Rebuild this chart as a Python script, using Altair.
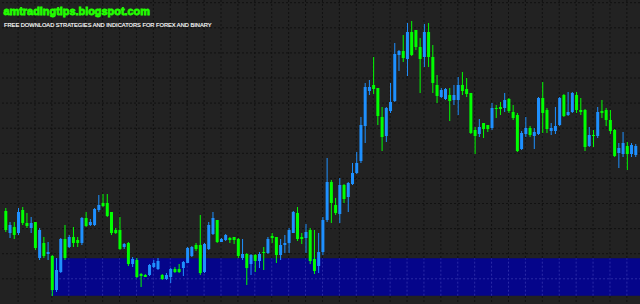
import altair as alt
import pandas as pd

# ---- candle data (price units) ----
open_ = [93, 71, 77, 71, 94, 81, 76, 82, 46, 61, 50, 48, 14, 32, 65, 57, 67, 64, 61, 86,
         79, 79, 94, 101, 101, 92, 74, 74, 57, 61, 40, 44, 30, 29, 29, 37, 35, 29, 25, 27,
         35, 35, 36, 41, 48, 59, 59, 32, 55, 70, 84, 62, 64, 66, 67, 65, 46, 50, 40, 49,
         43, 52, 51, 68, 67, 49, 59, 61, 71, 91, 67, 66, 74, 45, 38, 52, 84, 122, 99, 90,
         119, 107, 120, 131, 143, 178, 213, 219, 216, 187, 168, 193, 203, 249, 253, 245, 272, 274, 257, 247,
         272, 247, 219, 207, 205, 209, 204, 204, 219, 215, 211, 174, 170, 181, 179, 176, 196, 197, 196, 205,
         192, 189, 155, 170, 176, 168, 170, 206, 194, 173, 173, 179, 209, 189, 192, 209, 194, 194, 158, 169,
         168, 193, 194, 184, 174, 151, 150, 158, 150, 149]
high = [96, 82, 82, 96, 97, 91, 87, 82, 76, 67, 62, 49, 46, 66, 79, 69, 77, 67, 87, 92,
        85, 96, 109, 110, 110, 92, 76, 87, 61, 62, 47, 46, 31, 30, 40, 44, 46, 30, 31, 36,
        37, 40, 43, 57, 58, 61, 89, 61, 82, 92, 84, 66, 70, 67, 67, 66, 65, 51, 50, 50,
        52, 57, 67, 71, 67, 65, 69, 76, 93, 97, 71, 80, 76, 74, 71, 87, 146, 124, 106, 126,
        120, 122, 141, 152, 187, 221, 224, 247, 216, 197, 197, 221, 261, 254, 269, 281, 283, 274, 266, 280,
        281, 259, 229, 216, 216, 216, 219, 227, 232, 226, 211, 177, 185, 181, 179, 201, 199, 202, 211, 206,
        199, 191, 173, 187, 178, 176, 207, 222, 196, 181, 197, 207, 210, 212, 212, 212, 206, 195, 177, 174,
        197, 204, 196, 194, 175, 161, 172, 162, 161, 160]
low = [72, 66, 65, 69, 79, 76, 71, 54, 44, 46, 44, 8, 12, 31, 44, 56, 57, 57, 59, 77,
       78, 78, 92, 97, 87, 69, 70, 54, 55, 38, 37, 26, 17, 27, 28, 36, 34, 24, 24, 21,
       31, 31, 28, 41, 47, 53, 29, 31, 54, 69, 61, 62, 63, 61, 60, 46, 44, 19, 29, 32,
       36, 34, 50, 61, 41, 44, 51, 51, 71, 63, 60, 51, 40, 30, 31, 49, 82, 81, 89, 81,
       101, 92, 119, 130, 141, 161, 209, 210, 179, 153, 162, 191, 202, 233, 242, 228, 248, 254, 211, 237,
       237, 211, 201, 206, 204, 183, 199, 189, 209, 207, 170, 150, 167, 166, 172, 174, 186, 189, 192, 191,
       184, 152, 154, 167, 167, 155, 169, 171, 171, 169, 170, 178, 187, 188, 191, 191, 189, 153, 157, 157,
       166, 186, 178, 170, 147, 136, 147, 134, 147, 147]
close = [74, 79, 69, 92, 81, 78, 81, 56, 74, 48, 52, 14, 34, 65, 46, 67, 61, 61, 86, 78,
         82, 95, 99, 98, 88, 71, 71, 55, 60, 40, 45, 27, 28, 27, 39, 41, 43, 25, 29, 35,
         32, 32, 42, 56, 57, 55, 31, 60, 79, 86, 62, 65, 69, 64, 64, 48, 50, 36, 49, 43,
         50, 51, 65, 66, 49, 59, 61, 74, 92, 65, 65, 72, 43, 33, 52, 84, 122, 101, 91, 119,
         105, 121, 131, 141, 179, 217, 217, 215, 188, 167, 196, 202, 250, 253, 246, 272, 249, 257, 245, 272,
         247, 221, 208, 214, 215, 203, 209, 219, 213, 210, 171, 168, 177, 175, 175, 196, 195, 195, 204, 193,
         186, 153, 171, 176, 169, 172, 206, 191, 175, 176, 178, 206, 188, 192, 211, 194, 192, 157, 169, 168,
         192, 191, 184, 173, 148, 156, 161, 150, 159, 158]

# ---- supply / demand zone ----
zone_start_bar = 10.7
zone_end_bar = 160
zone_low, zone_high = 8.3, 45.7

# ---- texts ----
site_text = "amtradingtips.blogspot.com"
sub_text = "FREE DOWNLOAD STRATEGIES AND INDICATORS FOR FOREX AND BINARY"

# ---- style ----
BLUE = "#1e90ff"
GREEN = "#00ff00"
BG = "#222222"
ZONE = "#05058a"
GRID = "#111111"
GRID_IN_ZONE = "#2b2ba6"

grid_x = [2.9 + 4 * k for k in range(37)]
grid_y = [301.3 - 25.1 * k for k in range(12)]

bars = pd.DataFrame({
    "bar": list(range(len(open_))),
    "open": open_, "high": high, "low": low, "close": close,
})
bars["dir"] = ["up" if c > o else "down" for o, c in zip(open_, close)]

xs = alt.Scale(domain=[-0.19, 148.82], nice=False, zero=False)
ys = alt.Scale(domain=[0, 304], nice=False, zero=False)
col = alt.Color("dir:N", scale=alt.Scale(domain=["up", "down"], range=[BLUE, GREEN]), legend=None)

gx = pd.DataFrame({"gx": grid_x})
gy = pd.DataFrame({"gy": grid_y})

vgrid = alt.Chart(gx).mark_rule(color=GRID, strokeWidth=1, strokeDash=[2, 2]).encode(
    x=alt.X("gx:Q", scale=xs, axis=None))
hgrid = alt.Chart(gy).mark_rule(color=GRID, strokeWidth=1, strokeDash=[2, 2]).encode(
    y=alt.Y("gy:Q", scale=ys, axis=None))

zone_df = pd.DataFrame({"x0": [zone_start_bar], "x1": [zone_end_bar], "lo": [zone_low], "hi": [zone_high]})
zone = alt.Chart(zone_df).mark_rect(color=ZONE, clip=True).encode(
    x=alt.X("x0:Q", scale=xs, axis=None), x2="x1:Q",
    y=alt.Y("lo:Q", scale=ys, axis=None), y2="hi:Q")

gz = pd.DataFrame({"gx": [g for g in grid_x if g > zone_start_bar]})
gz["lo"] = zone_low
gz["hi"] = zone_high
vgrid_zone = alt.Chart(gz).mark_rule(color=GRID_IN_ZONE, strokeWidth=1, strokeDash=[2, 2]).encode(
    x=alt.X("gx:Q", scale=xs, axis=None), y=alt.Y("lo:Q", scale=ys, axis=None), y2="hi:Q")
hz = pd.DataFrame({"gy": [g for g in grid_y if zone_low < g < zone_high]})
hz["x0"] = zone_start_bar
hz["x1"] = zone_end_bar
hgrid_zone = alt.Chart(hz).mark_rule(color=GRID_IN_ZONE, strokeWidth=1, strokeDash=[2, 2], clip=True).encode(
    x=alt.X("x0:Q", scale=xs, axis=None), x2="x1:Q", y=alt.Y("gy:Q", scale=ys, axis=None))

wicks = alt.Chart(bars).mark_rule(strokeWidth=1, clip=True).encode(
    x=alt.X("bar:Q", scale=xs, axis=None),
    y=alt.Y("low:Q", scale=ys, axis=None), y2="high:Q", color=col)
bodies = alt.Chart(bars).mark_bar(size=3, clip=True).encode(
    x=alt.X("bar:Q", scale=xs, axis=None),
    y=alt.Y("open:Q", scale=ys, axis=None), y2="close:Q", color=col)

site = alt.Chart(pd.DataFrame({"t": [site_text]})).mark_text(
    align="left", baseline="alphabetic", font="Liberation Sans", fontWeight="bold",
    fontSize=10.9, color="#22ff00", stroke="#22ff00", strokeWidth=0.8).encode(
    x=alt.value(3.5), y=alt.value(15), text="t:N")
sub = alt.Chart(pd.DataFrame({"t": [sub_text]})).mark_text(
    align="left", baseline="alphabetic", font="Liberation Sans",
    fontSize=5.7, color="#ffffff", stroke="#ffffff", strokeWidth=0.15).encode(
    x=alt.value(4), y=alt.value(26.7), text="t:N")

chart = alt.layer(vgrid, hgrid, zone, vgrid_zone, hgrid_zone, wicks, bodies, site, sub).properties(
    width=640, height=304, background=BG, padding=0, autosize="none"
).configure_view(strokeWidth=0)

chart.save("out.html", embed_options={"renderer": "svg", "actions": False})
